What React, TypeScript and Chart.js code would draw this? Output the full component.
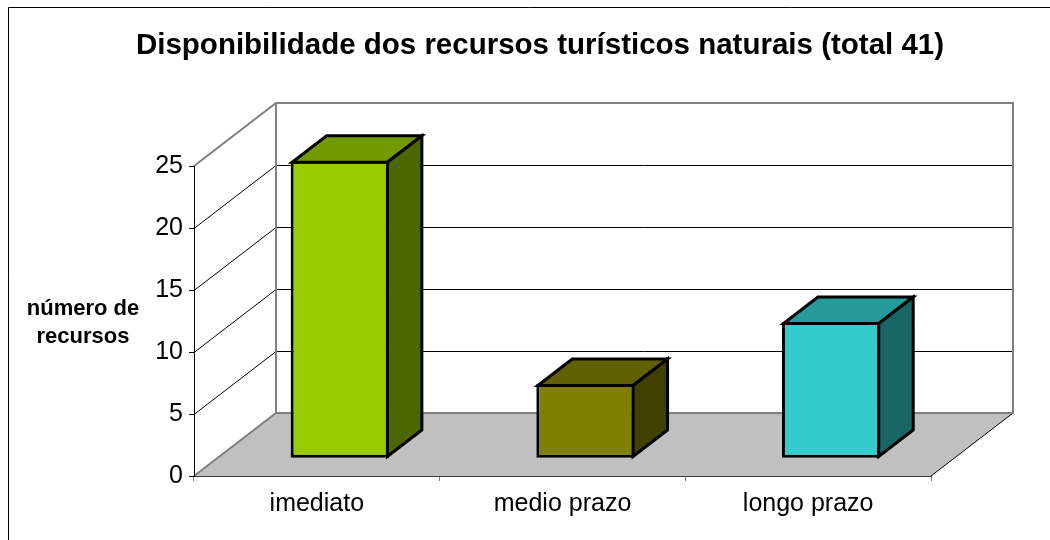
import React, { useEffect, useRef } from 'react';
import { Chart, registerables } from 'chart.js';

Chart.register(...registerables);

const TITLE = 'Disponibilidade dos recursos turísticos naturais (total 41)';
const Y_TITLE = ['número de', 'recursos'];
const categories = ['imediato', 'medio prazo', 'longo prazo'];
const values = [24, 6, 11];
const yTicks = [0, 5, 10, 15, 20, 25];

const frontColors = ['#99CC00', '#808000', '#33CCCC'];
const topColors = ['#739900', '#606000', '#269999'];
const sideColors = ['#4C6600', '#404000', '#1A6666'];

const FONT = '"Liberation Sans", Arial, sans-serif';
const DX = 82;
const DY = -63;
const BAR_FRONT = 0.28;
const BAR_BACK = 0.7;
const EDGE = 3;

function line(ctx: CanvasRenderingContext2D, x1: number, y1: number, x2: number, y2: number) {
  ctx.beginPath();
  ctx.moveTo(x1, y1);
  ctx.lineTo(x2, y2);
  ctx.stroke();
}

const scene3d = {
  id: 'scene3d',
  beforeDraw(chart: any) {
    const { ctx, chartArea: a } = chart;
    const y = chart.scales.y;
    const L = a.left, R = a.right, B = a.bottom, T = a.top;
    ctx.save();
    ctx.fillStyle = '#ffffff';
    ctx.fillRect(0, 0, chart.width, chart.height);
    ctx.strokeStyle = '#000';
    ctx.lineWidth = 1;
    ctx.beginPath();
    ctx.moveTo(8.5, chart.height + 5);
    ctx.lineTo(8.5, 7.5);
    ctx.lineTo(chart.width + 5, 7.5);
    ctx.stroke();
    ctx.fillStyle = '#C0C0C0';
    ctx.beginPath();
    ctx.moveTo(L, B);
    ctx.lineTo(R, B);
    ctx.lineTo(R + DX, B + DY);
    ctx.lineTo(L + DX, B + DY);
    ctx.closePath();
    ctx.fill();
    ctx.strokeStyle = '#000';
    ctx.lineWidth = 1;
    line(ctx, R, B, R + DX, B + DY);
    yTicks.forEach((v) => {
      if (v === yTicks[0] || v === yTicks[yTicks.length - 1]) return;
      const py = Math.round(y.getPixelForValue(v)) + 0.5;
      line(ctx, L, py, L + DX, py + DY);
      line(ctx, L + DX, py + DY, R + DX, py + DY);
    });
    ctx.strokeStyle = '#808080';
    ctx.lineWidth = 2;
    ctx.lineJoin = 'miter';
    ctx.beginPath();
    ctx.moveTo(L, B);
    ctx.lineTo(L + DX, B + DY);
    ctx.lineTo(R + DX, B + DY);
    ctx.lineTo(R + DX, T + DY);
    ctx.lineTo(L + DX, T + DY);
    ctx.lineTo(L, T);
    ctx.stroke();
    line(ctx, L + DX, B + DY, L + DX, T + DY);
    ctx.restore();
  },
  beforeDatasetsDraw(chart: any) {
    chart.ctx.save();
    chart.ctx.translate(DX * BAR_FRONT, DY * BAR_FRONT);
  },
  afterDatasetsDraw(chart: any) {
    const ctx = chart.ctx;
    ctx.restore();
    const meta = chart.getDatasetMeta(0);
    const fx = DX * BAR_FRONT, fy = DY * BAR_FRONT;
    const dx = DX * (BAR_BACK - BAR_FRONT), dy = DY * (BAR_BACK - BAR_FRONT);
    const h = EDGE / 2;
    ctx.save();
    ctx.strokeStyle = '#000';
    ctx.lineWidth = EDGE;
    ctx.lineJoin = 'miter';
    meta.data.forEach((bar: any, i: number) => {
      const p = bar.getProps(['x', 'y', 'base', 'width'], true);
      const l = p.x - p.width / 2 + fx + h;
      const r = p.x + p.width / 2 + fx - h;
      const t = p.y + fy + h;
      const b = p.base + fy - h;
      ctx.fillStyle = topColors[i];
      ctx.beginPath();
      ctx.moveTo(l, t);
      ctx.lineTo(r, t);
      ctx.lineTo(r + dx, t + dy);
      ctx.lineTo(l + dx, t + dy);
      ctx.closePath();
      ctx.fill();
      ctx.stroke();
      ctx.fillStyle = sideColors[i];
      ctx.beginPath();
      ctx.moveTo(r, t);
      ctx.lineTo(r + dx, t + dy);
      ctx.lineTo(r + dx, b + dy);
      ctx.lineTo(r, b);
      ctx.closePath();
      ctx.fill();
      ctx.stroke();
    });
    ctx.restore();
  },
  afterDraw(chart: any) {
    const ctx = chart.ctx;
    ctx.save();
    ctx.fillStyle = '#000';
    ctx.textAlign = 'center';
    ctx.textBaseline = 'alphabetic';
    ctx.font = `bold 29.5px ${FONT}`;
    ctx.fillText(TITLE, 540, 54);
    ctx.font = `bold 22px ${FONT}`;
    ctx.fillText(Y_TITLE[0], 83, 315);
    ctx.fillText(Y_TITLE[1], 83, 343);
    ctx.restore();
  },
};

export default function App() {
  const ref = useRef<HTMLCanvasElement | null>(null);
  useEffect(() => {
    if (!ref.current) return;
    const chart = new Chart(ref.current, {
      type: 'bar',
      data: {
        labels: categories,
        datasets: [
          {
            data: values,
            backgroundColor: frontColors,
            borderColor: '#000',
            borderWidth: EDGE,
            borderSkipped: false,
            barPercentage: 0.4,
            categoryPercentage: 1,
            clip: false as any,
          },
        ],
      },
      options: {
        responsive: false,
        animation: false,
        devicePixelRatio: 1,
        layout: { padding: { top: 166, right: 119, bottom: 0, left: 0 } },
        plugins: { legend: { display: false }, tooltip: { enabled: false }, title: { display: false } },
        scales: {
          x: {
            offset: true,
            ticks: { font: { family: FONT, size: 25 }, color: '#000', padding: 8 },
            grid: { drawOnChartArea: false, drawTicks: true, tickLength: 5, color: '#808080', offset: true },
            border: { display: true, color: '#404040', width: 1 },
            afterFit(s: any) {
              s.height = 64;
            },
          },
          y: {
            min: yTicks[0],
            max: yTicks[yTicks.length - 1],
            ticks: { stepSize: 5, font: { family: FONT, size: 25 }, color: '#000', padding: 6 },
            grid: { drawOnChartArea: false, drawTicks: true, tickLength: 5, color: '#000' },
            border: { display: true, color: '#000', width: 1 },
            afterFit(s: any) {
              s.width = 194;
            },
          },
        },
      },
      plugins: [scene3d],
    });
    return () => chart.destroy();
  }, []);
  return (
    <div style={{ position: 'fixed', left: 0, top: 0, width: 1050, height: 540 }}>
      <canvas ref={ref} width={1050} height={540} style={{ display: 'block' }} />
    </div>
  );
}
